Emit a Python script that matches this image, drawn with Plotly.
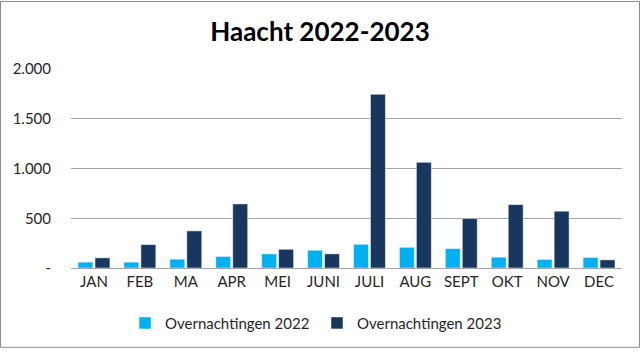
import plotly.graph_objects as go

months = ["JAN", "FEB", "MA", "APR", "MEI", "JUNI", "JULI", "AUG", "SEPT", "OKT", "NOV", "DEC"]
nights_2022 = [59, 59, 89, 116, 142, 178, 238, 208, 195, 109, 86, 106]
nights_2023 = [102, 235, 373, 644, 188, 142, 1746, 1062, 498, 637, 571, 82]
y_ticks = [0, 500, 1000, 1500, 2000]
y_tick_labels = ["-", "500", "1.000", "1.500", "2.000"]

FONT = "Lato, Open Sans, sans-serif"

fig = go.Figure()
fig.add_trace(go.Bar(x=months, y=nights_2022, name="Overnachtingen 2022",
                     marker=dict(color="#00B0F0", line=dict(color="#FFFFFF", width=0.5))))
fig.add_trace(go.Bar(x=months, y=nights_2023, name="Overnachtingen 2023",
                     marker=dict(color="#17375E", line=dict(color="#FFFFFF", width=0.5))))

L, R, T, B = 71, 18, 69, 81
W, H = 640, 352
pw, ph = W - L - R, H - T - B

fig.update_layout(
    width=W, height=H,
    margin=dict(l=L, r=R, t=T, b=B),
    paper_bgcolor="white", plot_bgcolor="white",
    barmode="group", bargap=0.26, bargroupgap=0.12,
    font=dict(family=FONT, size=15, color="#262626"),
    title=dict(text="<b>Haacht 2022-2023</b>", x=0.5, xanchor="center",
               y=1 - 32 / H, yanchor="middle",
               font=dict(family=FONT, size=26, color="#000000")),
    showlegend=True,
    legend=dict(orientation="h", x=(125 - L) / pw, xanchor="left",
                y=(T + ph - 327) / ph, yanchor="middle",
                entrywidth=147, entrywidthmode="pixels",
                font=dict(family=FONT, size=15, color="#262626"),
                itemclick=False),
    xaxis=dict(showgrid=False, showline=True, linecolor="#A6A6A6", linewidth=1,
               ticks="", tickfont=dict(size=15), fixedrange=True),
    yaxis=dict(range=[0, 2000], tickvals=y_ticks, ticktext=y_tick_labels,
               showgrid=True, gridcolor="#A6A6A6", gridwidth=1,
               zeroline=False, showline=False, ticks="",
               ticklabelstandoff=19, tickfont=dict(size=15), fixedrange=True),
    shapes=[dict(type="rect", xref="paper", yref="paper",
                 x0=(0.5 - L) / pw, x1=(W - 0.5 - L) / pw,
                 y0=(T + ph - (H - 0.5)) / ph, y1=(T + ph - 0.5) / ph,
                 line=dict(color="#8C8C8C", width=1), layer="below")],
)

fig.write_html("out.html")
